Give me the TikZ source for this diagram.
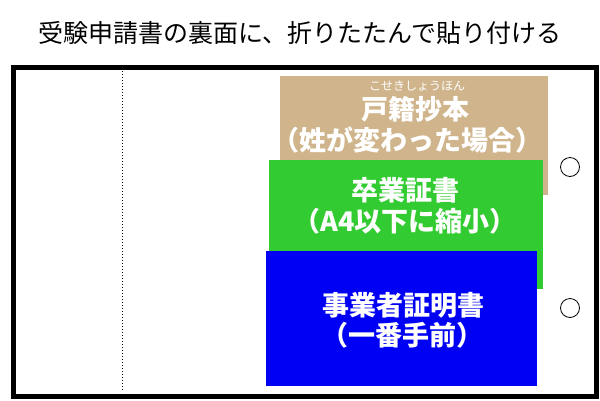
\documentclass[tikz,border=0pt]{standalone}
\usepackage{fontspec}
\setmainfont{Noto Sans CJK JP}
\definecolor{tanbox}{RGB}{207,180,140}
\definecolor{greenbox}{RGB}{50,204,50}
\definecolor{bluebox}{RGB}{0,0,245}
\begin{document}
\begin{tikzpicture}[x=1pt,y=-1pt,
  card/.style={draw=none,inner sep=0pt,outer sep=0pt},
  wtext/.style={text=white,font=\fontsize{27}{29}\selectfont\bfseries,inner sep=0pt,anchor=base},
  hole/.style={circle,draw=black,line width=0.8pt,minimum size=19pt,inner sep=0pt}]
\useasboundingbox (0,0) rectangle (600,400);
\fill[white] (0,0) rectangle (600,400);
\node[anchor=base,font=\fontsize{25}{27}\selectfont,inner sep=0pt] (title) at (300,42) {受験申請書の裏面に、折りたたんで貼り付ける};
\node[draw=black,line width=5pt,minimum width=583pt,minimum height=329pt,inner sep=0pt,anchor=north west] (sheet) at (10.5,64.5) {};
\coordinate (ftop) at (122,68);
\coordinate (fbot) at (122,390);
\draw[dotted,line width=1pt] (ftop) -- (fbot);
\node[card,fill=tanbox,minimum width=268pt,minimum height=119pt,anchor=north west] (tan) at (280,76) {};
\node[card,fill=greenbox,minimum width=274pt,minimum height=129pt,anchor=north west] (green) at (269,160) {};
\node[card,fill=bluebox,minimum width=271pt,minimum height=135pt,anchor=north west] (blue) at (266,251) {};
\node[hole] (h1) at (570,167) {};
\node[hole] (h2) at (570,308) {};
\node[text=white,font=\fontsize{12}{13}\selectfont,inner sep=0pt,anchor=base] (ruby) at (417,90) {こせきしょうほん};
\node[wtext] (t1) at (415,119) {戸籍抄本};
\node[wtext] (t2) at (407,150) {（姓が変わった場合）};
\node[wtext] (g1) at (405,200) {卒業証書};
\node[wtext] (g2) at (405,231) {（A4以下に縮小）};
\node[wtext] (b1) at (403,315) {事業者証明書};
\node[wtext] (b2) at (402,345) {（一番手前）};
\end{tikzpicture}
\end{document}
